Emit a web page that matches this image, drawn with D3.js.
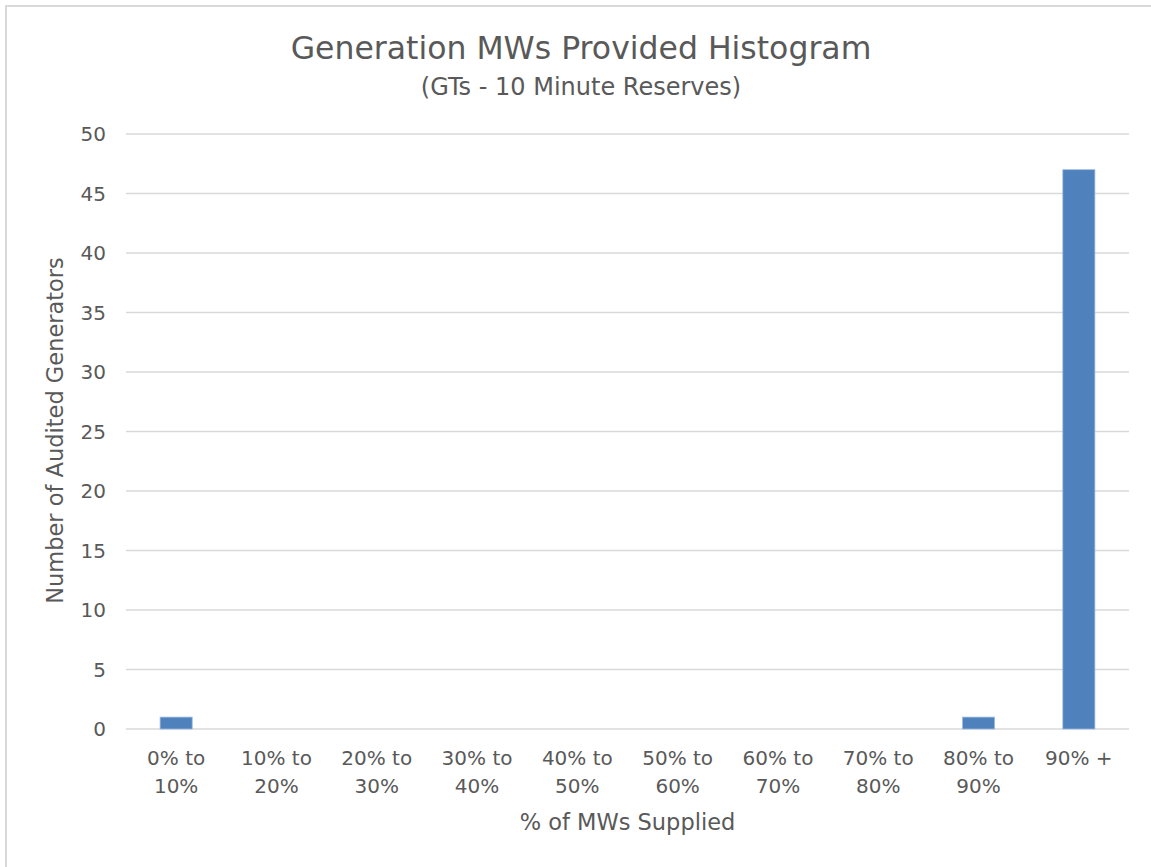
<!DOCTYPE html>
<html>
<head>
<meta charset="utf-8">
<script src="https://cdn.jsdelivr.net/npm/d3@7"></script>
<style>
  body { margin: 0; background: white; }
</style>
</head>
<body>
<script>
// --- Data ---
var categories = [["0% to", "10%"], ["10% to", "20%"], ["20% to", "30%"], ["30% to", "40%"],
                  ["40% to", "50%"], ["50% to", "60%"], ["60% to", "70%"], ["70% to", "80%"],
                  ["80% to", "90%"], ["90% +"]];
var counts = [1, 0, 0, 0, 0, 0, 0, 0, 1, 47];
var yTicks = [0, 5, 10, 15, 20, 25, 30, 35, 40, 45, 50];

var title = "Generation MWs Provided Histogram",
    subtitle = "(GTs - 10 Minute Reserves)",
    xTitle = "% of MWs Supplied",
    yTitle = "Number of Audited Generators";

function draw_hist(place) {

    // --- Colour / style parameters ---
    var bar_col = "#4f81bd",
        grid_col = "#d9d9d9",
        text_col = "#595959",
        font = '"DejaVu Sans", sans-serif';

    var W = 1151, H = 867;

    var margin = {top: 134, right: 22, bottom: 138, left: 126},
        width = W - margin.left - margin.right,
        height = H - margin.top - margin.bottom;

    var svg = d3.select(place)
            .append("svg")
            .attr("width", W)
            .attr("height", H);

    // --- Chart frame (runs off right / bottom edge) ---
    svg.append("rect")
        .attr("x", 6)
        .attr("y", 6)
        .attr("width", W + 20)
        .attr("height", H + 20)
        .attr("fill", "white")
        .attr("stroke", grid_col)
        .attr("stroke-width", 2);

    var g = svg.append("g")
        .attr("transform", "translate(" + margin.left + "," + margin.top + ")");

    // --- Scales ---
    var xScale = d3.scaleBand()
            .domain(d3.range(categories.length))
            .range([0, width])
            .paddingInner(0.68)
            .paddingOuter(0.34);

    var yScale = d3.scaleLinear()
            .domain([0, 50])
            .range([height, 0]);

    // --- Gridlines ---
    g.append("g").selectAll("line")
        .data(yTicks)
        .enter().append("line")
        .attr("x1", 0)
        .attr("x2", width)
        .attr("y1", d => yScale(d))
        .attr("y2", d => yScale(d))
        .attr("stroke", grid_col)
        .attr("stroke-width", 1.5);

    // --- Y tick labels ---
    g.append("g").selectAll("text")
        .data(yTicks)
        .enter().append("text")
        .text(d => d)
        .attr("x", -20)
        .attr("y", d => yScale(d))
        .attr("dy", "0.36em")
        .attr("text-anchor", "end")
        .attr("font-family", font)
        .attr("font-size", "20px")
        .attr("fill", text_col);

    // --- Bars ---
    g.append("g").selectAll("rect")
        .data(counts)
        .enter().append("rect")
        .attr("x", (d, i) => xScale(i))
        .attr("y", d => yScale(d))
        .attr("width", xScale.bandwidth())
        .attr("height", d => yScale(0) - yScale(d))
        .attr("fill", bar_col)
        .attr("stroke", "#9dbbe0")
        .attr("stroke-width", 0.8);

    // --- X tick labels (two lines) ---
    var xl = g.append("g").selectAll("text")
        .data(categories)
        .enter().append("text")
        .attr("x", (d, i) => xScale(i) + xScale.bandwidth() / 2)
        .attr("y", height + 36)
        .attr("text-anchor", "middle")
        .attr("font-family", font)
        .attr("font-size", "20px")
        .attr("fill", text_col);

    xl.selectAll("tspan")
        .data((d, i) => d.map(s => ({s: s, x: xScale(i) + xScale.bandwidth() / 2})))
        .enter().append("tspan")
        .attr("x", d => d.x)
        .attr("dy", (d, j) => j == 0 ? 0 : 28)
        .text(d => d.s);

    // --- Titles ---
    svg.append("text")
        .text(title)
        .attr("x", 581)
        .attr("y", 59)
        .attr("text-anchor", "middle")
        .attr("font-family", font)
        .attr("font-size", "31.5px")
        .attr("fill", text_col);

    svg.append("text")
        .text(subtitle)
        .attr("x", 581)
        .attr("y", 95)
        .attr("text-anchor", "middle")
        .attr("font-family", font)
        .attr("font-size", "24px")
        .attr("fill", text_col);

    svg.append("text")
        .text(xTitle)
        .attr("x", margin.left + width / 2)
        .attr("y", 830)
        .attr("text-anchor", "middle")
        .attr("font-family", font)
        .attr("font-size", "22.5px")
        .attr("fill", text_col);

    svg.append("text")
        .text(yTitle)
        .attr("transform", "translate(63," + (margin.top + height / 2 - 1) + ") rotate(-90)")
        .attr("text-anchor", "middle")
        .attr("font-family", font)
        .attr("font-size", "22.5px")
        .attr("fill", text_col);
}

draw_hist("body");
</script>
</body>
</html>
